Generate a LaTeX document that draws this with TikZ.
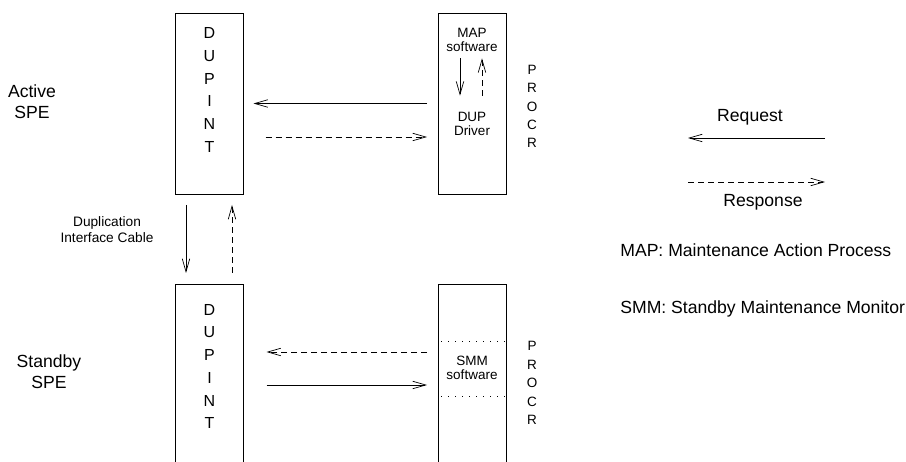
\documentclass[tikz,border=0pt]{standalone}
\usepackage{fontspec}
\setmainfont{Liberation Sans}
\usetikzlibrary{arrows.meta}

\begin{document}
\begin{tikzpicture}[x=1pt,y=-1pt,line width=0.7pt] % pixel units, y runs downward
    \tikzstyle{unit}=[draw, minimum width=68pt, inner sep=0pt, outer sep=0pt]
    \tikzstyle{letters}=[align=center, inner sep=0pt, font=\fontsize{16}{22.7}\selectfont]
    \tikzstyle{procr}=[align=center, inner sep=0pt, font=\fontsize{13.5}{18.4}\selectfont]
    \tikzstyle{small}=[align=center, inner sep=0pt, font=\fontsize{13.5}{14.5}\selectfont]
    \tikzstyle{label}=[align=center, inner sep=0pt, font=\fontsize{17.6}{21}\selectfont]
    \tikzstyle{req}=[-{Straight Barb[length=13pt,width=7.5pt]}]
    \tikzstyle{resp}=[req, dash pattern=on 6pt off 4pt]
    \tikzstyle{border}=[dash pattern=on 1pt off 6pt, dash phase=4pt]
    \useasboundingbox (0,0) rectangle (906,462);

    % active side
    \node[unit, minimum height=181pt] (adup) at (209.5,103.5) {};
    \node[unit, minimum height=181pt] (aproc) at (472,103.5) {};
    \node[letters] (adupt) at (209.5,90) {D\\U\\P\\I\\N\\T};
    \node[procr] (aproct) at (532,106.5) {P\\R\\O\\C\\R};
    \node[small] (maptxt) at (472,40) {MAP\\software};
    \node[small] (duptxt) at (472,124) {DUP\\Driver};
    \node[label] (active) at (32,102) {Active\\SPE};
    \draw[req] ([xshift=-12pt]maptxt.south) -- ([xshift=-12pt]duptxt.north) [shorten <=6pt, shorten >=16pt];
    \draw[resp] ([xshift=10pt]duptxt.north) -- ([xshift=10pt]maptxt.south) [shorten <=16pt, shorten >=6pt];
    \draw[req, shorten <=11pt, shorten >=10pt] (aproc.west) -- (adup.east);
    \draw[resp, shorten <=22pt, shorten >=11pt] ([yshift=-33.5pt]adup.east) -- ([yshift=-33.5pt]aproc.west);

    % standby side
    \node[unit, minimum height=184pt] (sdup) at (209.5,376) {};
    \node[unit, minimum height=184pt] (sproc) at (472,376) {};
    \node[letters] (sdupt) at (209.5,366.5) {D\\U\\P\\I\\N\\T};
    \node[procr] (sproct) at (532,383) {P\\R\\O\\C\\R};
    \node[small] (smmtxt) at (472,368) {SMM\\software};
    \node[label] (standby) at (49,372) {Standby\\SPE};
    \draw[border] ([yshift=35pt]sproc.west) -- ([yshift=35pt]sproc.east);
    \draw[border] ([yshift=-20pt]sproc.west) -- ([yshift=-20pt]sproc.east);
    \draw[resp, shorten <=11pt, shorten >=23pt] ([yshift=24pt]sproc.west) -- ([yshift=24pt]sdup.east);
    \draw[req, shorten <=23pt, shorten >=11pt] ([yshift=-9pt]sdup.east) -- ([yshift=-9pt]sproc.west);

    % cable between the two DUPINT boards
    \node[small, font=\fontsize{13.7}{16}\selectfont] (cable) at (107,230) {Duplication\\Interface Cable};
    \draw[req, shorten <=11pt, shorten >=11pt] ([xshift=-23.5pt]adup.south) -- ([xshift=-23.5pt]sdup.north);
    \draw[resp, shorten <=11pt, shorten >=11pt] ([xshift=22.5pt]sdup.north) -- ([xshift=22.5pt]adup.south);

    % legend
    \node[label] (reqtxt) at (750,117) {Request};
    \coordinate (lreqa) at (825,138);
    \coordinate (lreqb) at (688,138);
    \draw[req] (lreqa) -- (lreqb);
    \coordinate (lrespa) at (688,182);
    \coordinate (lrespb) at (825,182);
    \draw[resp] (lrespa) -- (lrespb);
    \node[label] (resptxt) at (763,202) {Response};
    \node[label, anchor=west] (mapkey) at (620,250) {MAP: Maintenance Action Process};
    \node[label, anchor=west] (smmkey) at (620,309) {SMM: Standby Maintenance Monitor};
\end{tikzpicture}
\end{document}
